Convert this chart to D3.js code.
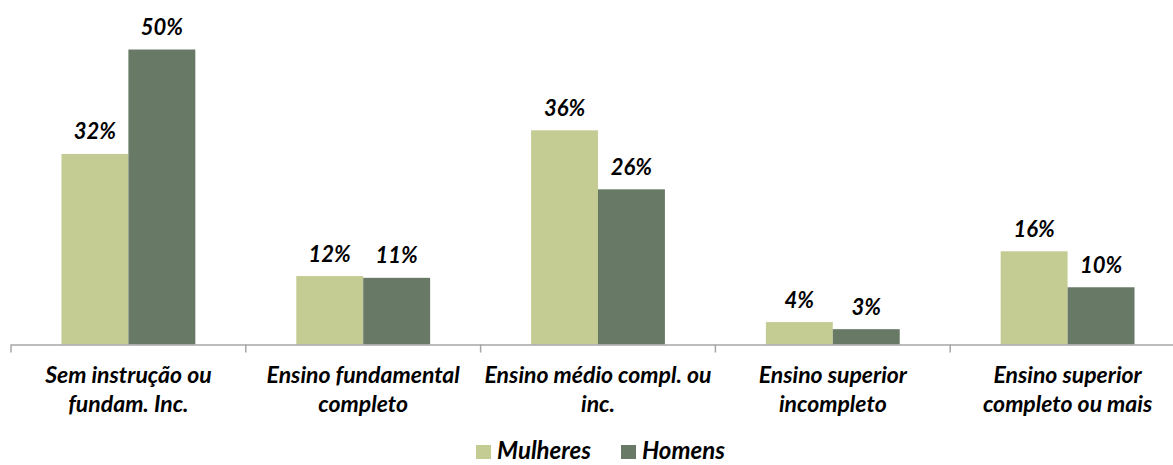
<!DOCTYPE html>
<html>
<head>
<meta charset="utf-8">
<script src="https://cdn.jsdelivr.net/npm/d3@7"></script>
<style>
  body { margin: 0; background: #fff; }
  svg { display: block; font-family: Lato, 'Open Sans', sans-serif; }
  .val, .cat, .leg { font-weight: bold; font-style: italic; fill: #000; }
</style>
</head>
<body>
<svg width="1173" height="465"></svg>
<script>
// categories (already split into label lines)
const categories = [
  'Sem instrução ou fundam. Inc.',
  'Ensino fundamental completo',
  'Ensino médio compl. ou inc.',
  'Ensino superior incompleto',
  'Ensino superior completo ou mais'
];
const categoryLines = [
  ['Sem instrução ou', 'fundam. Inc.'],
  ['Ensino fundamental', 'completo'],
  ['Ensino médio compl. ou', 'inc.'],
  ['Ensino superior', 'incompleto'],
  ['Ensino superior', 'completo ou mais']
];
const seriesNames = ['Mulheres', 'Homens'];
const mulheres = [32.3, 11.6, 36.3, 3.8, 15.8];
const homens = [50.0, 11.3, 26.3, 2.6, 9.7];
const colors = ['#c4cc94', '#687a66'];

const svg = d3.select('svg');
const plotLeft = 11, plotRight = 1185, plotTop = 49.5, baseline = 344.5;

const x = d3.scaleBand().domain(categories).range([plotLeft, plotRight])
  .paddingInner(0.43).paddingOuter(0.215);
const xs = d3.scaleBand().domain(seriesNames).range([0, x.bandwidth()]);
const y = d3.scaleLinear().domain([0, 50]).range([baseline, plotTop]);

const rows = categories.map((c, i) => ({
  cat: c,
  vals: [
    { s: seriesNames[0], v: mulheres[i] },
    { s: seriesNames[1], v: homens[i] }
  ]
}));

const dataContainer = svg.append('g').attr('class', 'dataContainer');
const groups = dataContainer.selectAll('g').data(rows).enter().append('g')
  .attr('transform', d => `translate(${x(d.cat)},0)`);

groups.selectAll('rect').data(d => d.vals).enter().append('rect')
  .attr('x', d => xs(d.s))
  .attr('width', xs.bandwidth())
  .attr('y', d => y(d.v))
  .attr('height', d => baseline - y(d.v))
  .attr('fill', (d, i) => colors[i]);

groups.selectAll('text').data(d => d.vals).enter().append('text')
  .attr('class', 'val')
  .attr('x', d => xs(d.s) + xs.bandwidth() / 2)
  .attr('y', d => y(d.v) - 14.5)
  .attr('text-anchor', 'middle')
  .style('font-size', '22px')
  .text(d => Math.round(d.v) + '%');

// x axis: line with ticks between categories
const step = x.step();
const xAxisContainer = svg.append('g').attr('class', 'xAxisContainer')
  .attr('transform', `translate(0,${baseline})`);
xAxisContainer.append('line')
  .attr('x1', plotLeft).attr('x2', plotRight).attr('y1', 0.5).attr('y2', 0.5)
  .attr('stroke', '#a6a6a6').attr('stroke-width', 1.5);
const tickPos = d3.range(categories.length + 1).map(i => plotLeft + i * step);
xAxisContainer.selectAll('.tick').data(tickPos).enter().append('line')
  .attr('x1', d => d).attr('x2', d => d)
  .attr('y1', 0).attr('y2', 8)
  .attr('stroke', '#a6a6a6').attr('stroke-width', 1.5);

xAxisContainer.selectAll('.cat').data(rows).enter().append('text')
  .attr('class', 'cat')
  .attr('text-anchor', 'middle')
  .style('font-size', '23px')
  .attr('transform', (d, i) => `translate(${x(d.cat) + x.bandwidth() / 2},0)`)
  .each(function (d, i) {
    d3.select(this).selectAll('tspan').data(categoryLines[i]).enter().append('tspan')
      .attr('x', 0)
      .attr('y', (l, j) => 38.5 + j * 29)
      .text(l => l);
  });

// legend
const legend = svg.append('g').attr('class', 'legend')
  .attr('transform', 'translate(0,459)');
const legX = [476, 621];
seriesNames.forEach((s, i) => {
  legend.append('rect')
    .attr('x', legX[i]).attr('y', -14).attr('width', 15).attr('height', 14)
    .attr('fill', colors[i]);
  legend.append('text')
    .attr('class', 'leg')
    .attr('x', legX[i] + 21).attr('y', 0)
    .style('font-size', '24px')
    .text(s);
});
</script>
</body>
</html>
